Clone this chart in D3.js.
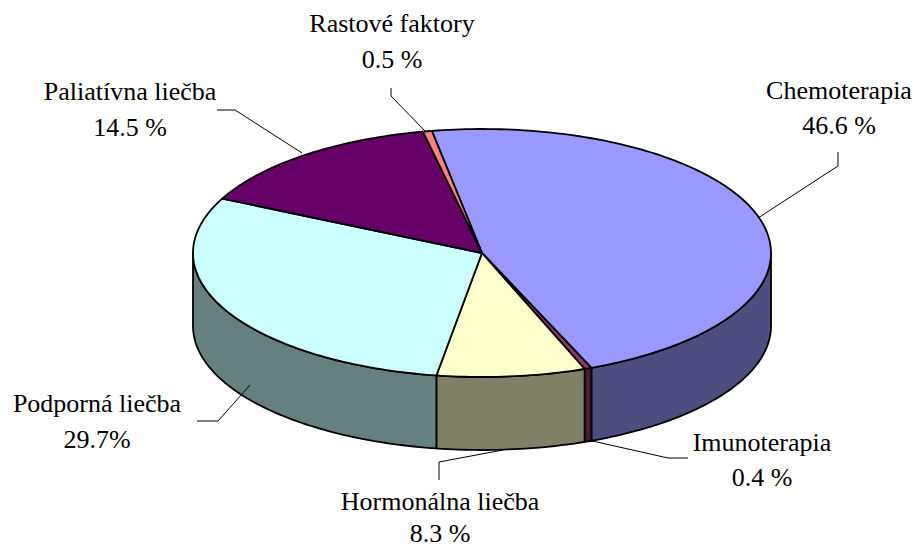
<!DOCTYPE html>
<html><head><meta charset="utf-8">
<script src="https://cdn.jsdelivr.net/npm/d3@7/dist/d3.min.js"></script>
<style>html,body{margin:0;background:#fff}svg{display:block}text{font-family:"Liberation Serif",serif;font-size:26px;fill:#000;text-anchor:middle}</style>
</head><body><svg width="915" height="548"></svg>
<script>
const categories=["Chemoterapia","Imunoterapia","Hormonálna liečba","Podporná liečba","Paliatívna liečba","Rastové faktory"];
const values=[46.6,0.4,8.3,29.7,14.5,0.5];
const valueLabels=["46.6 %","0.4 %","8.3 %","29.7%","14.5 %","0.5 %"];
const topColors=["#9999ff","#993366","#ffffcc","#ccffff","#660066","#ff8080"];
const sideColors=["#4d4d80","#4d1a33","#808066","#668080","#330033","#804040"];
const labelPos=[[839,99,134],[762,451,486],[440,510,542],[97,412,448],[130,100,136],[392,32,68]];
const leaders=[[[838,152],[838,166],[758,218]],[[688,458],[668,458],[588,440]],[[439,480],[439,462],[503,450]],[[197,421],[218,421],[250,385]],[[217,110],[235,110],[302,153]],[[391,88],[391,96],[425,131]]];

const cx=482,cy=253,rx=289,ry=124,depth=73;
const start=-10*Math.PI/180;
const svg=d3.select("svg");
const arcs=d3.pie().sort(null).startAngle(start).endAngle(start+2*Math.PI)(values);
const px=a=>cx+rx*Math.sin(a), py=a=>cy-ry*Math.cos(a);
const line=d3.line();
function samples(a0,a1){const n=Math.max(2,Math.ceil(Math.abs(a1-a0)/0.02));return d3.range(n+1).map(i=>a0+(a1-a0)*i/n);}
arcs.forEach((d,i)=>{
  const a0=Math.max(d.startAngle,Math.PI/2),a1=Math.min(d.endAngle,3*Math.PI/2);
  if(a1<=a0)return;
  const s=samples(a0,a1);
  const pts=s.map(a=>[px(a),py(a)]).concat(s.slice().reverse().map(a=>[px(a),py(a)+depth]));
  svg.append("path").attr("d",line(pts)+"Z").attr("fill",sideColors[i]).attr("stroke","#000").attr("stroke-width",1.8).attr("stroke-linejoin","round");
});
arcs.forEach((d,i)=>{
  const pts=[[cx,cy]].concat(samples(d.startAngle,d.endAngle).map(a=>[px(a),py(a)]));
  svg.append("path").attr("d",line(pts)+"Z").attr("fill",topColors[i]).attr("stroke","#000").attr("stroke-width",1.8).attr("stroke-linejoin","round");
});
leaders.forEach(l=>svg.append("path").attr("d",line(l)).attr("fill","none").attr("stroke","#000").attr("stroke-width",1));
categories.forEach((c,i)=>{
  svg.append("text").attr("x",labelPos[i][0]).attr("y",labelPos[i][1]).text(c);
  svg.append("text").attr("x",labelPos[i][0]).attr("y",labelPos[i][2]).text(valueLabels[i]);
});
</script></body></html>
